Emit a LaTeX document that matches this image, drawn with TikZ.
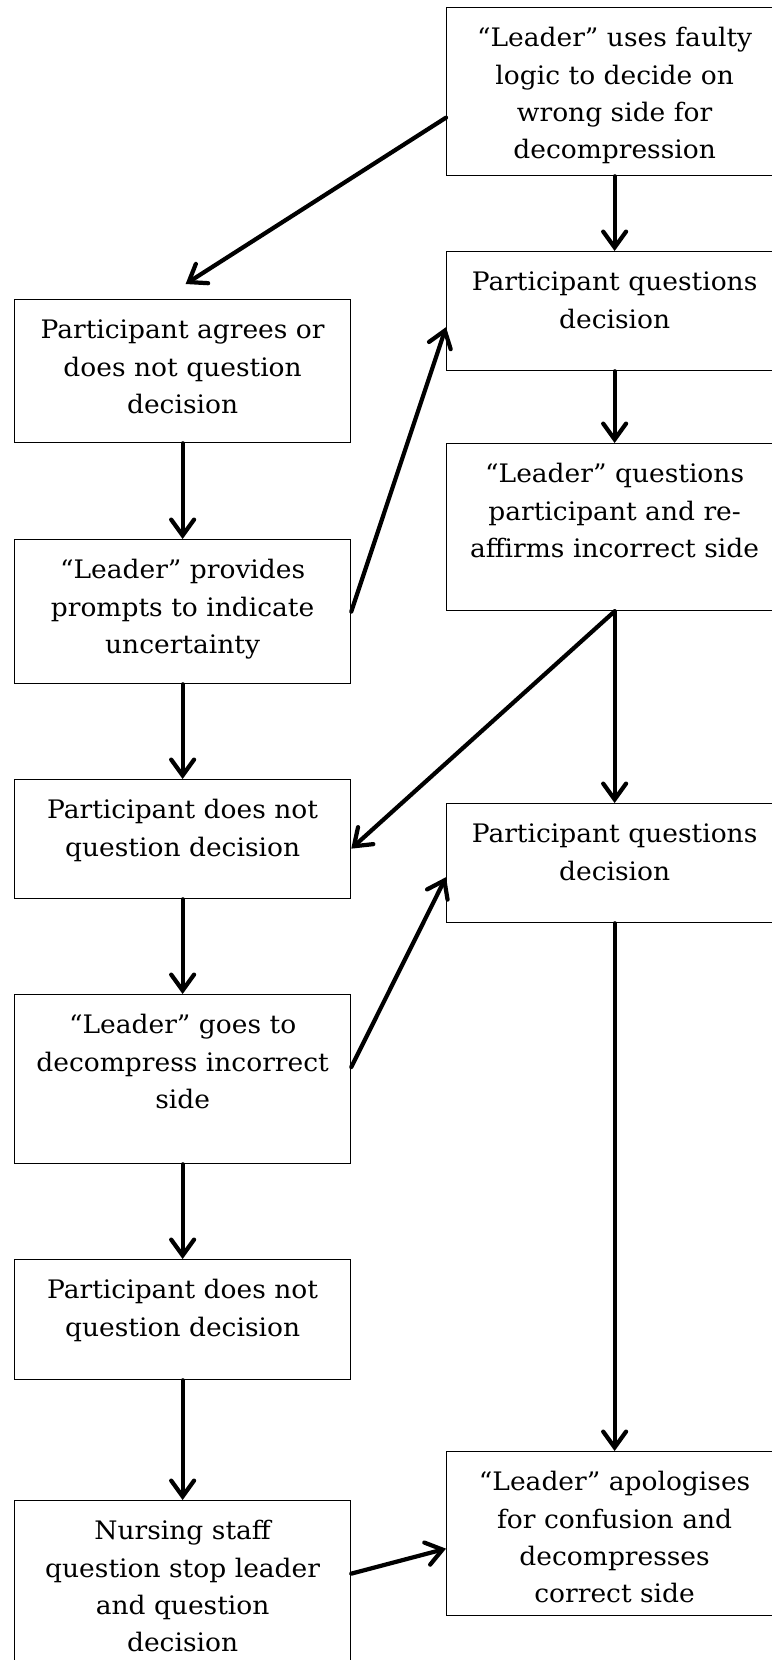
\documentclass[tikz,border=0pt]{standalone}
\usepackage{fontspec}
\setmainfont[FakeStretch=1.04]{DejaVu Serif}
\usetikzlibrary{arrows.meta}
\begin{document}
\begin{tikzpicture}[x=0.02cm,y=-0.02cm,
    box/.style={draw,line width=0.75pt,text width=6.72cm,align=center,inner sep=0pt,
        text height=0.78cm,anchor=north west,font=\fontsize{14.5pt}{21.3pt}\selectfont},
    arr/.style={line width=2.4pt,line cap=round,-{Straight Barb[length=9pt,width=13pt,line cap=round]}}]
            \useasboundingbox (0,0) rectangle (771,1660);
            \node[box,text depth=2.58cm] (a) at (446,7) {“Leader” uses faulty\\logic to decide on\\wrong side for\\decompression};
            \node[box,text depth=1.6cm] (b) at (446,251) {Participant questions\\decision};
            \node[box,text depth=2.56cm] (c) at (446,443) {“Leader” questions\\participant and re-\\affirms incorrect side};
            \node[box,text depth=1.6cm] (d) at (446,803) {Participant questions\\decision};
            \node[box,text depth=2.5cm] (e) at (446,1451) {“Leader” apologises\\for confusion and\\decompresses\\correct side};
            \node[box,text depth=2.08cm] (l1) at (14,299) {Participant agrees or\\does not question\\decision};
            \node[box,text depth=2.1cm] (l2) at (14,539) {“Leader” provides\\prompts to indicate\\uncertainty};
            \node[box,text depth=1.6cm] (l3) at (14,779) {Participant does not\\question decision};
            \node[box,text depth=2.6cm] (l4) at (14,994) {“Leader” goes to\\decompress incorrect\\side};
            \node[box,text depth=1.62cm] (l5) at (14,1259) {Participant does not\\question decision};
            \node[box,text depth=2.82cm] (l6) at (14,1500) {Nursing staff\\question stop leader\\and question\\decision};
            \draw[arr] (a.south)--(b.north);
            \draw[arr] (b.south)--(c.north);
            \draw[arr] (c.south)--(d.north);
            \draw[arr] (d.south)--(e.north);
            \draw[arr] (l1.south)--(l2.north);
            \draw[arr] (l2.south)--(l3.north);
            \draw[arr] (l3.south)--(l4.north);
            \draw[arr] (l4.south)--(l5.north);
            \draw[arr] (l5.south)--(l6.north);
            \draw[arr] ([yshift=-0.52cm]a.west)--([xshift=0.06cm,yshift=0.3cm]l1.north);
            \draw[arr] (l2.east)--([yshift=-0.32cm]b.west);
            \draw[arr] (c.south)--([yshift=-0.19cm]l3.east);
            \draw[arr] ([yshift=0.24cm]l4.east)--([yshift=-0.28cm]d.west);
            \draw[arr] ([yshift=0.34cm]l6.east)--([yshift=-0.3cm]e.west);
        \end{tikzpicture}
\end{document}
